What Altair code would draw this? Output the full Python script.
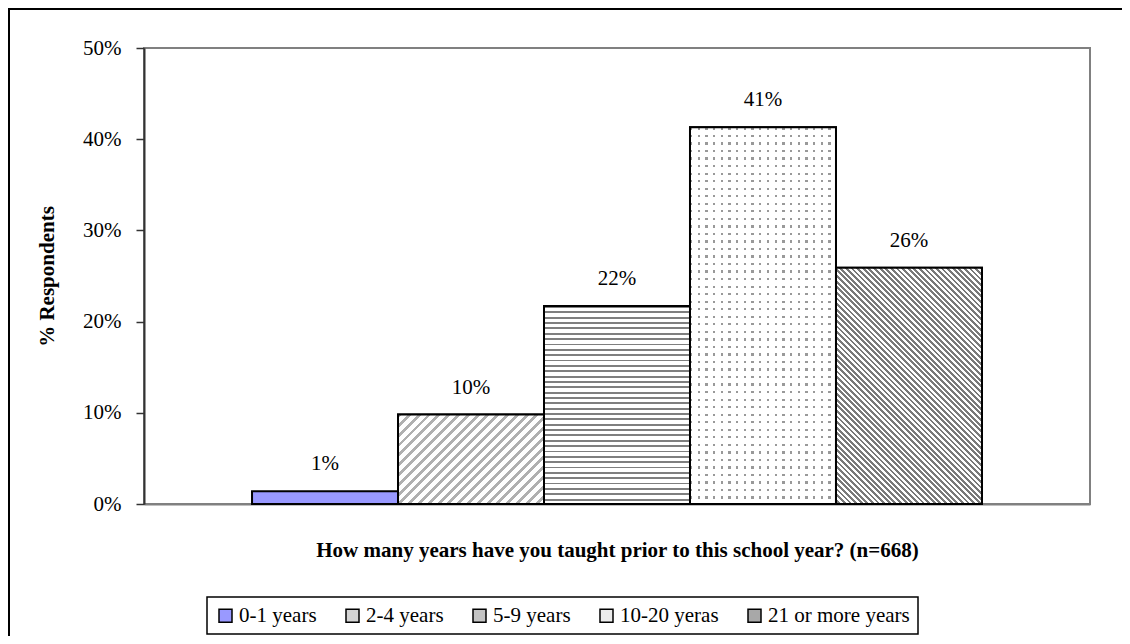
import math
import altair as alt
import pandas as pd

# ---- data ----
categories = ["0-1 years", "2-4 years", "5-9 years", "10-20 yeras", "21 or more years"]
values = [0.014, 0.098, 0.217, 0.413, 0.259]
labels = ["1%", "10%", "22%", "41%", "26%"]
y_ticks = [0.0, 0.1, 0.2, 0.3, 0.4, 0.5]
legend_fills = ["#9999FF", "#d4d4d4", "#c4c4c4", "#ececec", "#a8a8a8"]

x_title = "How many years have you taught prior to this school year? (n=668)"
y_title = "% Respondents"

df = pd.DataFrame({"cat": categories, "value": values, "label": labels})

# ---- layout / style ----
W_PLOT, H_PLOT = 946, 456
PAD_OUTER = 0.74
Y_MAX = 0.5
FONT = "Liberation Serif"
BAR_W = W_PLOT / (len(categories) + 2 * PAD_OUTER)


def bar_h(v):
    return v / Y_MAX * H_PLOT


def stripe_stops(n, duty, fg, bg):
    stops = []
    for k in range(n):
        a, b, c = k / n, (k + duty) / n, (k + 1) / n
        stops += [(a, fg), (b, fg), (b, bg), (c, bg)]
    return [alt.GradientStop(offset=round(o, 6), color=col) for o, col in stops]


def diag_gradient(w, h, pitch, duty, fg, bg, up=True):
    r = h / w
    s = (1 + r) / (1 + r * r)
    n = int(math.ceil((w + h) / (math.sqrt(2) * pitch)))
    st = stripe_stops(n, duty, fg, bg)
    if up:
        return alt.LinearGradient(gradient="linear", stops=st, x1=0, y1=0, x2=s, y2=s * r)
    return alt.LinearGradient(gradient="linear", stops=st, x1=1, y1=0, x2=1 - s, y2=s * r)


def lin_gradient(n, duty, fg, bg, vertical):
    st = stripe_stops(n, duty, fg, bg)
    if vertical:  # stripes stacked vertically (horizontal lines)
        return alt.LinearGradient(gradient="linear", stops=st, x1=0, y1=0, x2=0, y2=1)
    return alt.LinearGradient(gradient="linear", stops=st, x1=0, y1=0, x2=1, y2=0)


x_enc = alt.X(
    "cat:N",
    scale=alt.Scale(domain=categories, paddingInner=0, paddingOuter=PAD_OUTER),
    axis=alt.Axis(
        labels=False, ticks=False, title=x_title, titleFont=FONT, titleFontSize=21,
        titleFontWeight="bold", titleColor="black", titlePadding=35,
        domainColor="#808080", domainWidth=2,
    ),
)
y_enc = alt.Y(
    "value:Q",
    scale=alt.Scale(domain=[0, Y_MAX], nice=False),
    axis=alt.Axis(
        values=y_ticks, format=".0%", grid=False, title=y_title, titleFont=FONT,
        titleFontSize=21, titleFontWeight="bold", titleColor="black", titlePadding=25,
        labelFont=FONT, labelFontSize=21, labelColor="black", labelPadding=15,
        tickSize=8, tickColor="#333333", tickWidth=1.5,
        domainColor="#333333", domainWidth=2,
    ),
)

base = alt.Chart(df)

bars = base.mark_bar(stroke="black", strokeWidth=2).encode(
    x=x_enc,
    y=y_enc,
    color=alt.Color(
        "cat:N",
        scale=alt.Scale(domain=categories, range=legend_fills),
        legend=alt.Legend(title=None),
    ),
)


def pattern_layer(cat, fill, stroke="black"):
    return base.transform_filter(alt.datum.cat == cat).mark_bar(
        fill=fill, stroke=stroke, strokeWidth=2 if stroke != "none" else 0
    ).encode(x=alt.X("cat:N", scale=alt.Scale(domain=categories)), y="value:Q")


h = [bar_h(v) for v in values]

p2 = pattern_layer(categories[1], diag_gradient(BAR_W, h[1], 7.0, 0.4, "#b0b0b0", "#ffffff", up=True))
p3 = pattern_layer(categories[2], lin_gradient(int(round(h[2] / 5.3)), 0.35, "#7f7f7f", "#ffffff", True))
p4a = pattern_layer(categories[3], lin_gradient(int(round(BAR_W / 7.5)), 0.3, "#999999", "#ffffff", False), stroke="none")
p4b = pattern_layer(categories[3], lin_gradient(int(round(h[3] / 7.5)), 0.3, "rgba(255,255,255,0)", "#ffffff", True))
p5 = pattern_layer(categories[4], diag_gradient(BAR_W, h[4], 4.0, 0.5, "#7a7a7a", "#ffffff", up=False))

text = base.mark_text(font=FONT, fontSize=21, color="black", baseline="middle", dy=-27).encode(
    x=alt.X("cat:N", scale=alt.Scale(domain=categories)), y="value:Q", text="label:N"
)

frame = alt.Chart(df).mark_rect(fill=None, stroke="black", strokeWidth=2).encode(
    x=alt.value(-135), x2=alt.value(W_PLOT + 60), y=alt.value(-39), y2=alt.value(H_PLOT + 170)
)

chart = (
    alt.layer(bars, p2, p3, p4a, p4b, p5, text, frame)
    .properties(
        width=W_PLOT, height=H_PLOT,
        autosize=alt.AutoSizeParams(type="none"),
        padding={"left": 136, "top": 40, "right": 32, "bottom": 132},
    )
    .configure(font=FONT)
    .configure_view(stroke="#808080", strokeWidth=2)
    .configure_legend(
        orient="none", legendX=63, legendY=549, direction="horizontal",
        strokeColor="black", strokeWidth=1.5, fillColor="white", padding=8,
        labelFont=FONT, labelFontSize=21, labelColor="black", labelOffset=3,
        symbolType="square", symbolSize=169, symbolStrokeColor="black",
        symbolStrokeWidth=1.5, columnPadding=25, labelLimit=400,
    )
)

chart.save("out.html", embed_options={"renderer": "svg", "actions": False})
